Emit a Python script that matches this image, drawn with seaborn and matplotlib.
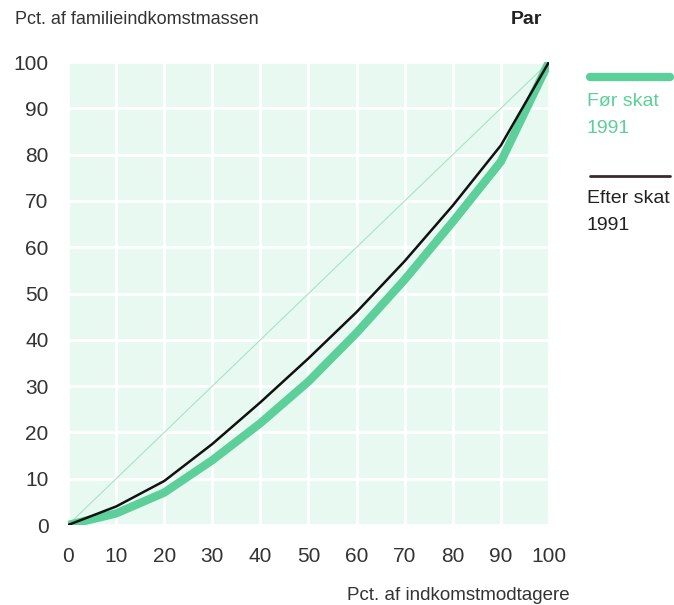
import matplotlib
matplotlib.use("Agg")
import matplotlib.pyplot as plt
import seaborn as sns
import pandas as pd

# Lorenz curves, couples ("Par"), 1991
pct_recipients = [0, 10, 20, 30, 40, 50, 60, 70, 80, 90, 100]
before_tax = [0, 2.5, 7.0, 14.0, 22.0, 31.0, 41.5, 53.0, 65.5, 78.5, 100]
after_tax = [0, 4.0, 9.5, 17.5, 26.5, 36.0, 46.0, 57.0, 69.0, 82.0, 100]
series_labels = ["Før skat\n1991", "Efter skat\n1991"]
ticks = [0, 10, 20, 30, 40, 50, 60, 70, 80, 90, 100]

green = "#5dcf9a"
dark = "#3a2a2a"

df = pd.DataFrame({
    "x": pct_recipients * 2,
    "y": before_tax + after_tax,
    "serie": [series_labels[0]] * len(pct_recipients) + [series_labels[1]] * len(pct_recipients),
})

sns.set_style("white")
plt.rcParams["font.family"] = ["Liberation Sans", "DejaVu Sans"]

fig = plt.figure(figsize=(6.74, 6.05), dpi=100)
ax = fig.add_axes([0.1009, 0.1322, 0.7136, 0.7653])
ax.set_facecolor("#e8f9f1")

# diagonal of equality
ax.plot([0, 100], [0, 100], color="#a8e4c6", lw=0.8, zorder=2)

sns.lineplot(data=df[df["serie"] == series_labels[0]], x="x", y="y",
             color=green, lw=6, ax=ax, zorder=3, legend=False)
sns.lineplot(data=df[df["serie"] == series_labels[1]], x="x", y="y",
             color="#111111", lw=1.8, ax=ax, zorder=4, legend=False)

ax.set_xlim(0, 100)
ax.set_ylim(0, 100)
ax.set_xticks(ticks)
ax.set_yticks(ticks)
ax.grid(True, color="white", lw=2)
ax.set_axisbelow(True)
for s in ax.spines.values():
    s.set_visible(False)
ax.tick_params(length=0, labelsize=15, colors="#333333", pad=14)
ax.tick_params(axis="x", pad=16)
ax.set_xlabel("")
ax.set_ylabel("")

fig.text(15 / 674, 1 - 20 / 605, "Pct. af familieindkomstmassen", fontsize=13,
         color="#333333", va="center", ha="left")
fig.text(526 / 674, 1 - 20 / 605, "Par", fontsize=14, fontweight="bold",
         color="#222222", va="center", ha="center")
fig.text(570 / 674, 1 - 595 / 605, "Pct. af indkomstmodtagere", fontsize=13.5,
         color="#333333", va="center", ha="right")

# legend at the right
fig.add_artist(plt.Line2D([590 / 674, 670 / 674], [1 - 77 / 605, 1 - 77 / 605],
                          color=green, lw=6, solid_capstyle="round"))
fig.text(587 / 674, 1 - 115 / 605, series_labels[0], fontsize=14, color=green,
         va="center", ha="left", linespacing=1.7)
fig.add_artist(plt.Line2D([590 / 674, 670 / 674], [1 - 176 / 605, 1 - 176 / 605],
                          color=dark, lw=2))
fig.text(587 / 674, 1 - 212 / 605, series_labels[1], fontsize=14, color="#222222",
         va="center", ha="left", linespacing=1.7)

fig.savefig("out.png", dpi=100)
